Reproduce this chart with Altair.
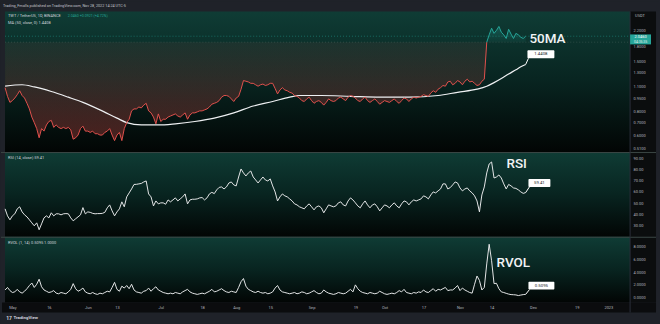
import altair as alt
import numpy as np
import pandas as pd

START = "2022-04-28"

price = [1.08, 0.97, 0.90, 0.92, 0.95, 0.99, 1.04, 0.98, 0.95, 0.89,
         0.83, 0.75, 0.70, 0.65, 0.58, 0.65, 0.63, 0.68, 0.71, 0.72,
         0.66, 0.68, 0.66, 0.65, 0.66, 0.65, 0.66, 0.64, 0.57, 0.58,
         0.60, 0.65, 0.67, 0.63, 0.63, 0.62, 0.63, 0.61, 0.61, 0.60,
         0.60, 0.62, 0.63, 0.65, 0.60, 0.56, 0.60, 0.62, 0.56, 0.65,
         0.70, 0.73, 0.81, 0.83, 0.83, 0.85, 0.84, 0.87, 0.89, 0.81,
         0.79, 0.75, 0.69, 0.78, 0.71, 0.73, 0.73, 0.75, 0.76, 0.77,
         0.78, 0.76, 0.75, 0.77, 0.79, 0.73, 0.77, 0.79, 0.79, 0.80,
         0.81, 0.81, 0.82, 0.83, 0.85, 0.88, 0.89, 0.90, 0.92, 0.96,
         0.98, 0.98, 0.97, 0.94, 0.91, 0.95, 0.97, 1.06, 1.18, 1.17,
         1.16, 1.14, 1.14, 1.12, 1.10, 1.12, 1.13, 1.11, 1.12, 1.14,
         1.14, 1.07, 1.00, 1.05, 1.08, 1.05, 1.04, 1.02, 1.01, 0.98,
         0.97, 0.95, 0.92, 0.91, 0.94, 0.96, 0.92, 0.89, 0.91, 0.92,
         0.90, 0.87, 0.90, 0.94, 0.92, 0.91, 0.92, 0.95, 0.96, 0.94,
         0.92, 0.96, 0.98, 0.97, 0.95, 0.92, 0.91, 0.94, 0.96, 0.92,
         0.90, 0.92, 0.94, 0.91, 0.88, 0.90, 0.92, 0.91, 0.90, 0.92,
         0.94, 0.91, 0.89, 0.92, 0.95, 0.94, 0.91, 0.94, 0.96, 0.95,
         0.96, 0.97, 0.99, 0.98, 0.97, 1.01, 1.04, 1.02, 1.06, 1.08,
         1.11, 1.10, 1.16, 1.17, 1.12, 1.14, 1.18, 1.16, 1.12, 1.17,
         1.20, 1.16, 1.17, 1.14, 1.11, 1.12, 1.17, 1.20, 1.90, 2.08,
         2.26, 2.12, 2.20, 2.31, 2.15, 2.08, 1.99, 2.23, 2.10, 1.99,
         2.12, 2.08, 2.02, 1.99, 2.046]

ma_days = [0, 7, 12, 19, 26, 32, 39, 46, 50, 56, 63, 70, 78, 86, 94, 102, 110,
           117, 121, 130, 142, 154, 166, 178, 186, 194, 198, 201, 204, 207, 210, 212, 214]
ma_vals = [1.10, 1.12, 1.09, 1.03, 0.96, 0.90, 0.82, 0.74, 0.70, 0.68, 0.68, 0.69, 0.71,
           0.74, 0.79, 0.86, 0.91, 0.96, 0.98, 0.98, 0.97, 0.96, 0.96, 0.98, 1.02, 1.06,
           1.10, 1.15, 1.21, 1.28, 1.35, 1.40, 1.4408]

rsi = [45.0, 38.8, 35.3, 38.8, 40.6, 45.0, 46.8, 42.3, 39.7, 37.9,
       35.3, 32.6, 30.0, 32.6, 26.5, 31.7, 37.0, 38.8, 37.0, 41.5,
       38.8, 40.6, 40.6, 39.7, 40.6, 40.8, 40.6, 37.0, 34.4, 36.2,
       37.9, 39.7, 46.1, 40.6, 42.3, 41.9, 41.0, 40.6, 40.8, 40.8,
       41.0, 41.9, 45.9, 48.5, 43.2, 38.8, 42.3, 45.0, 51.2, 46.8,
       55.6, 59.1, 62.6, 66.6, 66.7, 67.1, 67.5, 68.8, 69.7, 58.2,
       55.6, 47.6, 52.0, 49.4, 50.3, 50.3, 49.1, 52.9, 51.2, 52.9,
       54.7, 52.0, 53.8, 55.6, 58.2, 49.4, 52.9, 53.5, 53.5, 53.8,
       54.7, 55.0, 52.9, 54.7, 58.2, 59.6, 58.5, 61.8, 64.0, 64.4,
       62.6, 64.4, 67.9, 68.8, 66.2, 65.3, 73.2, 80.3, 76.8, 74.1,
       76.8, 78.5, 73.2, 70.6, 67.9, 70.6, 73.2, 70.6, 69.7, 71.5,
       65.3, 60.0, 52.0, 55.6, 58.2, 56.5, 55.6, 53.8, 52.0, 49.4,
       48.5, 46.8, 45.9, 45.0, 47.6, 49.4, 46.8, 44.1, 46.8, 47.6,
       45.9, 41.5, 45.0, 48.5, 47.6, 46.8, 47.6, 50.3, 51.2, 48.5,
       47.6, 52.0, 54.7, 52.9, 50.3, 47.6, 45.9, 49.4, 52.0, 48.5,
       45.9, 48.5, 49.4, 46.8, 43.2, 45.9, 48.5, 47.6, 45.9, 48.5,
       50.3, 47.6, 45.9, 49.4, 52.0, 51.2, 48.5, 51.2, 52.9, 52.0,
       52.9, 53.8, 56.5, 55.6, 53.8, 57.3, 60.0, 59.1, 60.9, 62.6,
       67.1, 67.1, 62.6, 63.8, 66.2, 68.8, 67.9, 63.5, 60.9, 62.6,
       63.5, 60.9, 59.1, 56.5, 52.0, 42.3, 57.3, 64.4, 76.8, 84.7,
       86.5, 72.3, 73.2, 75.0, 72.3, 67.1, 62.6, 66.6, 65.3, 63.5,
       63.1, 61.8, 60.0, 58.7, 59.41]

rvol = [1.2, 1.6, 1.1, 0.8, 0.9, 1.3, 0.9, 0.7, 1.0, 1.4,
        1.9, 2.3, 1.6, 2.1, 2.9, 1.7, 1.2, 1.0, 0.8, 0.9,
        1.1, 0.7, 0.6, 0.8, 0.7, 0.6, 0.9, 1.3, 2.2, 1.4,
        1.0, 1.2, 1.5, 0.9, 0.7, 0.6, 0.8, 0.6, 0.5, 0.7,
        0.6, 0.8, 1.0, 0.9, 1.6, 2.4, 1.3, 1.0, 1.8, 1.5,
        1.9, 1.4, 2.1, 1.2, 0.9, 0.8, 0.7, 1.0, 1.1, 1.5,
        1.0, 1.4, 1.7, 1.2, 1.0, 0.8, 0.7, 0.6, 0.7, 0.6,
        0.8, 0.7, 0.6, 0.9, 1.1, 1.3, 0.9, 0.7, 0.6, 0.5,
        0.6, 0.7, 0.6, 0.8, 1.0, 1.3, 0.9, 1.0, 1.2, 1.4,
        1.1, 0.9, 0.8, 1.0, 0.9, 0.8, 1.6, 2.5, 3.0, 1.8,
        1.3, 1.1, 0.9, 0.8, 1.0, 0.8, 0.7, 0.8, 0.6, 0.7,
        0.9, 1.5, 1.9, 1.2, 0.9, 0.8, 0.7, 0.6, 0.7, 0.8,
        0.6, 0.7, 0.9, 0.8, 0.6, 0.7, 0.9, 1.1, 0.8, 0.6,
        0.7, 1.2, 0.9, 0.7, 0.6, 0.5, 0.6, 0.8, 0.7, 0.6,
        0.7, 1.0, 1.3, 0.9, 2.0, 1.4, 1.0, 0.8, 0.7, 0.6,
        0.8, 0.7, 0.6, 0.7, 1.0, 0.8, 0.6, 0.5, 0.6, 0.7,
        0.6, 0.8, 1.1, 0.9, 1.3, 0.8, 0.7, 0.6, 0.8, 0.7,
        0.9, 0.8, 1.2, 0.9, 0.8, 1.1, 1.4, 1.0, 1.3, 1.2,
        1.4, 1.6, 1.1, 1.2, 1.2, 1.5, 1.9, 1.1, 1.5, 1.2,
        1.0, 0.8, 0.7, 2.1, 3.4, 2.7, 1.2, 1.6, 5.3, 8.4,
        5.8, 2.2, 2.25, 1.4, 0.9, 0.8, 0.67, 0.55, 0.47, 0.45,
        0.42, 0.32, 0.40, 0.47, 0.5095]

tick_dates = ["2022-05-01", "2022-05-16", "2022-06-01", "2022-06-13", "2022-07-01",
              "2022-07-18", "2022-08-01", "2022-08-15", "2022-09-01", "2022-09-19",
              "2022-10-01", "2022-10-17", "2022-11-01", "2022-11-14", "2022-12-01",
              "2022-12-19", "2023-01-01"]
tick_labels = ["May", "16", "Jun", "13", "Jul", "18", "Aug", "15", "Sep", "19",
               "Oct", "17", "Nov", "14", "Dec", "19", "2023"]
price_ticks = [0.51, 0.6, 0.7, 0.8, 0.95, 1.1, 1.3, 1.5, 1.8, 2.2]
rsi_ticks = [30, 40, 50, 60, 70, 80, 90]
rvol_ticks = [0, 2, 4, 6, 8]

BASE = 1.90

FONT = "Roboto"
BG = "#1f2229"
AXBG = "#0b0d0e"
LBL = "#b2b5be"
LEG = "#d1d4dc"
RED = "#e0504c"
TEAL = "#26a69a"
WHITE = "#eef0f2"

W = 627
H1, H2, H3 = 141, 85, 66
XDOM = [-0.04, 256.93]
PDOM = [0.486, 2.782]
RDOM = [20.27, 95.3]
VDOM = [-0.785, 9.576]

start = pd.Timestamp(START)
df = pd.DataFrame({"d": list(range(len(price))), "price": price, "rsi": rsi, "rvol": rvol})
df["lo"] = np.minimum(df["price"], BASE)
df["hi"] = np.maximum(df["price"], BASE)
df["base"] = BASE
last = df.tail(1)
ma_df = pd.DataFrame({"d": ma_days, "ma": ma_vals})
ma_last = ma_df.tail(1)
red_df = df[df["price"] <= BASE]
teal_df = df[df["price"] >= BASE]
tick_days = [int((pd.Timestamp(t) - start).days) for t in tick_dates]
one = pd.DataFrame({"k": [0]})

label_expr = "".join(f"datum.value == {d} ? '{l}' : " for d, l in zip(tick_days, tick_labels)) + "''"


def vgrad(stops):
    return alt.LinearGradient(gradient="linear", x1=0, y1=0, x2=0, y2=1,
                              stops=[alt.GradientStop(offset=o, color=c) for o, c in stops])


pane_fill = vgrad([(0, "#0f3c35"), (0.5, "#082420"), (1, "#020504")])
red_fill = vgrad([(0, "rgba(239,83,80,0.07)"), (1, "rgba(239,83,80,0.30)")])
teal_fill = vgrad([(0, "rgba(38,166,154,0.30)"), (1, "rgba(38,166,154,0.06)")])

xscale = alt.Scale(domain=XDOM, nice=False, zero=False)
x_axis = alt.Axis(values=tick_days, labelExpr=label_expr, labelFontSize=4, labelColor=LBL,
                  labelFont=FONT, labelPadding=5, ticks=False, tickSize=0, domain=False,
                  grid=False, labelBaseline="middle", labelAlign="center", labelFlush=False,
                  labelOverlap=False, zindex=1)


def X(axis=None):
    return alt.X("d:Q", scale=xscale, axis=axis, title=None)


def yaxis(values, fmt):
    return alt.Axis(orient="right", values=values, format=fmt, labelFontSize=4, labelColor=LBL,
                    labelFont=FONT, labelPadding=3, ticks=False, tickSize=0, domain=False,
                    grid=False, labelAlign="left", labelBaseline="middle", labelFlush=False,
                    labelOverlap=False, zindex=1)


def YP(f):
    return alt.Y(f"{f}:Q", scale=alt.Scale(type="log", domain=PDOM, nice=False),
                 axis=yaxis(price_ticks, ".4f"), title=None)


def YR(f):
    return alt.Y(f"{f}:Q", scale=alt.Scale(domain=RDOM, nice=False, zero=False),
                 axis=yaxis(rsi_ticks, ".2f"), title=None)


def YV(f):
    return alt.Y(f"{f}:Q", scale=alt.Scale(domain=VDOM, nice=False, zero=False),
                 axis=yaxis(rvol_ticks, ".4f"), title=None)


def prect(x, x2, y, y2, fill):
    return alt.Chart(one).mark_rect(fill=fill, strokeWidth=0).encode(
        x=alt.value(x), x2=alt.value(x2), y=alt.value(y), y2=alt.value(y2))


def prule(x, x2, y, y2, color, width=1):
    return alt.Chart(one).mark_rule(color=color, strokeWidth=width).encode(
        x=alt.value(x), x2=alt.value(x2), y=alt.value(y), y2=alt.value(y2))


def ptext(t, x, y, size, color, align="left", weight="normal"):
    return alt.Chart(one).mark_text(text=t, fontSize=size, color=color, align=align,
                                    baseline="middle", font=FONT, fontWeight=weight).encode(
        x=alt.value(x), y=alt.value(y))


def callout(data, yf, field, label, xa, xb, ya, yb, xaxis=None):
    box = alt.Chart(data).mark_rect(fill="#ffffff", cornerRadius=1, xOffset=xa, x2Offset=xb,
                                    yOffset=ya, y2Offset=yb).encode(
        x=X(xaxis), x2=alt.X2("d"), y=yf(field), y2=alt.Y2(field))
    tail = alt.Chart(data).mark_rule(color="#ffffff", strokeWidth=1, x2Offset=xa + 1,
                                     y2Offset=yb).encode(
        x=X(xaxis), x2=alt.X2("d"), y=yf(field), y2=alt.Y2(field))
    txt = alt.Chart(data).mark_text(text=label, fontSize=4.3, color="#131722", align="center",
                                    baseline="middle", font=FONT, dx=(xa + xb) / 2,
                                    dy=(ya + yb) / 2).encode(x=X(xaxis), y=yf(field))
    return [tail, box, txt]


def big(data, yf, field, label, dx, dy, xaxis=None):
    return alt.Chart(data).mark_text(text=label, fontSize=13.5, color="#f2f3f5", align="left",
                                     baseline="middle", font=FONT, fontWeight=500, dx=dx,
                                     dy=dy).encode(x=X(xaxis), y=yf(field))


header = "Trading_Fmolls published on TradingView.com, Nov 28, 2022 14:24 UTC-5"

p_layers = [
    prect(-4, 656, -10, 314, BG),
    prect(0, W, 0, H1, pane_fill),
    prect(W, W + 26, 0, H1, AXBG),
    alt.Chart(df).mark_area(fill=red_fill).encode(x=X(), y=YP("lo"), y2=alt.Y2("base")),
    alt.Chart(df).mark_area(fill=teal_fill).encode(x=X(), y=YP("hi"), y2=alt.Y2("base")),
    alt.Chart(last).mark_rule(color="#5b716d", strokeDash=[1, 2], strokeWidth=0.7,
                              opacity=0.6).encode(x=alt.value(0), x2=alt.value(W), y=YP("base")),
    alt.Chart(last).mark_rule(color=TEAL, strokeDash=[1, 2], strokeWidth=0.7,
                              opacity=0.7).encode(x=alt.value(0), x2=alt.value(W), y=YP("price")),
    alt.Chart(ma_df).mark_line(color=WHITE, strokeWidth=1.2, interpolate="monotone").encode(
        x=X(), y=YP("ma")),
    alt.Chart(red_df).mark_line(color=RED, strokeWidth=1).encode(x=X(), y=YP("price")),
    alt.Chart(teal_df).mark_line(color=TEAL, strokeWidth=1).encode(x=X(), y=YP("price")),
    prule(W, W, 0, H1, "#2a2e39"),
    ptext(header, -2, -5, 3.8, "#c3c6cc"),
    ptext("TWT / TetherUS, 1D, BINANCE", 3, 5, 4, LEG),
    ptext("2.0460  +0.0921 (+4.72%)", 63, 5, 3.6, TEAL),
    ptext("MA (50, close, 0)  1.4408", 3, 11.5, 4, LEG),
    ptext("USDT", 632, 5, 4, LBL),
    alt.Chart(last).mark_rect(fill=TEAL, yOffset=-1.8, y2Offset=8.2).encode(
        x=alt.value(W), x2=alt.value(W + 21), y=YP("price"), y2=alt.Y2("price")),
    alt.Chart(last).mark_text(text="2.0460", fontSize=4, color="#ffffff", align="center",
                              baseline="middle", font=FONT, dy=1).encode(
        x=alt.value(W + 10.5), y=YP("price")),
    alt.Chart(last).mark_text(text="04:35:35", fontSize=3.4, color="#e8f5f3", align="center",
                              baseline="middle", font=FONT, dy=5.6).encode(
        x=alt.value(W + 10.5), y=YP("price")),
    big(last, YP, "price", "50MA", 3.8, 2.7),
] + callout(ma_last, YP, "ma", "1.4408", 1.8, 28.8, -14.2, -6.2)

r_layers = [
    prect(0, W, 0, H2, pane_fill),
    prect(W, W + 26, 0, H2, AXBG),
    prule(-4, W + 26, 0.5, 0.5, "#3a4644"),
    prule(W, W, 0, H2, "#2a2e39"),
    alt.Chart(df).mark_line(color="#e3e5e6", strokeWidth=1).encode(x=X(), y=YR("rsi")),
    ptext("RSI (14, close)  59.41", 3, 6, 4, LEG),
    big(last, YR, "rsi", "RSI", -19.2, -28.7),
] + callout(last, YR, "rsi", "59.41", 2.8, 24.8, -13.7, -5.7)

v_layers = [
    prect(0, W, 0, H3, pane_fill),
    prect(W, W + 26, 0, H3, AXBG),
    prect(-3, W + 26, H3, H3 + 10, "#0b0c0e"),
    prule(-4, W + 26, 0.5, 0.5, "#3a4644"),
    prule(W, W, 0, H3 + 10, "#2a2e39"),
    alt.Chart(df).mark_line(color="#e3e5e6", strokeWidth=1).encode(x=X(x_axis), y=YV("rvol")),
    ptext("RVOL (1, 14)  0.5095  1.0000", 3, 6, 4, LEG),
    big(last, YV, "rvol", "RVOL", -29.2, -31.8, x_axis),
    ptext("17", 1.2, 81.3, 5, LEG, weight="bold"),
    ptext("TradingView", 8.5, 81.3, 4.4, LEG, weight="bold"),
] + callout(last, YV, "rvol", "0.5095", 2.8, 28.8, -12.76, -4.76, x_axis)

p1 = alt.layer(*p_layers).properties(width=W, height=H1)
p2 = alt.layer(*r_layers).properties(width=W, height=H2)
p3 = alt.layer(*v_layers).properties(width=W, height=H3)

chart = alt.VConcatChart(vconcat=[p1, p2, p3], spacing=0, bounds="flush", padding=0,
                         background=BG).configure_view(stroke="transparent")

chart.save("out.html", embed_options={"renderer": "svg", "actions": False})
